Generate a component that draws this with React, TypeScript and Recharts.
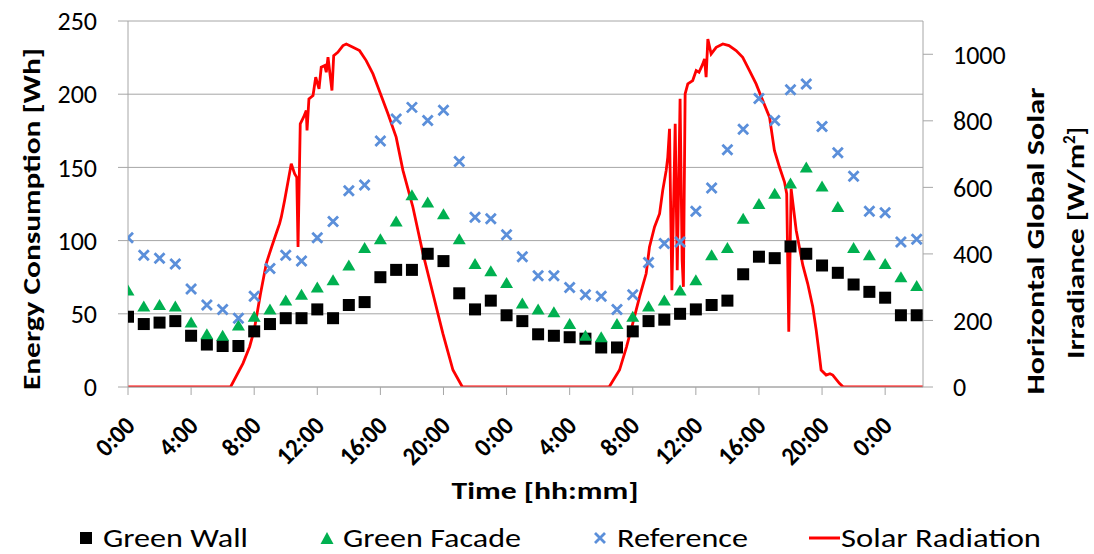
import { ComposedChart, Scatter, Line, XAxis, YAxis, CartesianGrid } from "recharts";

// hourly samples, 0 = first midnight
const hours = [
  0, 1, 2, 3, 4, 5, 6, 7, 8, 9, 10, 11, 12, 13, 14, 15, 16,
  17, 18, 19, 20, 21, 22, 23, 24, 25, 26, 27, 28, 29, 30, 31, 32, 33,
  34, 35, 36, 37, 38, 39, 40, 41, 42, 43, 44, 45, 46, 47, 48, 49, 50,
];

const greenWall = [
  48, 43, 44, 45, 35, 29, 28, 28, 38, 43, 47, 47, 53, 47, 56, 58, 75,
  80, 80, 91, 86, 64, 53, 59, 49, 45, 36, 35, 34, 33, 27, 27, 38, 45,
  46, 50, 53, 56, 59, 77, 89, 88, 96, 91, 83, 78, 70, 65, 61, 49, 49,
];

const greenFacade = [
  66, 55, 56, 55, 44, 36, 35, 42, 48, 53, 59, 63, 68, 73, 83, 95, 101,
  113, 131, 126, 118, 101, 84, 79, 71, 57, 53, 51, 43, 35, 34, 43, 48, 55,
  59, 66, 73, 90, 95, 115, 125, 132, 139, 150, 137, 123, 95, 90, 84, 75, 69,
];

const reference = [
  102, 90, 88, 84, 67, 56, 53, 47, 62, 81, 90, 86, 102, 113, 134, 138, 168,
  183, 191, 182, 189, 154, 116, 115, 104, 89, 76, 76, 68, 63, 62, 53, 63, 85,
  98, 99, 120, 136, 162, 176, 197, 182, 203, 207, 178, 160, 144, 120, 119, 99, 101,
];

// solar radiation, irregular time steps (hours) and W/m2
const solarHours = [
  0, 6.5, 7.29, 7.71, 8.0, 8.4, 8.77, 9.1, 9.4, 9.61, 9.72, 9.93, 10.14, 10.35,
  10.56, 10.7, 10.78, 10.92, 11.13, 11.3, 11.35, 11.47, 11.73, 11.9, 12.11,
  12.25, 12.47, 12.57, 12.68, 12.93, 13.04, 13.3, 13.63, 13.84, 14.26, 14.68,
  15.1, 15.53, 15.85, 16.48, 17.0, 17.43, 18.06, 18.7, 19.33, 19.96, 20.6, 21.2,
  30.5, 31.16, 31.6, 32.0, 32.43, 32.85, 33.06, 33.38, 33.7, 33.9, 34.12, 34.22,
  34.33, 34.48, 34.69, 34.82, 35.0, 35.13, 35.21, 35.32, 35.49, 35.8, 36.02,
  36.2, 36.44, 36.55, 36.65, 36.76, 36.97, 37.29, 37.71, 38.1, 38.55, 38.97,
  39.4, 39.82, 40.24, 40.67, 40.98, 41.3, 41.62, 41.76, 41.89, 42.04, 42.36,
  42.78, 43.09, 43.41, 43.63, 43.79, 43.94, 44.26, 44.5, 44.68, 45.1, 45.35, 50.4,
];

const solarValues = [
  0, 0, 71, 121, 171, 280, 372, 420, 462, 491, 511, 561, 616, 671,
  641, 630, 421, 791, 811, 831, 771, 866, 876, 931, 896,
  961, 966, 946, 991, 891, 996, 1006, 1026, 1031, 1021, 1011,
  981, 941, 901, 821, 751, 651, 541, 401, 281, 161, 51, 0,
  0, 51, 120, 191, 271, 341, 421, 481, 521, 591, 651, 691,
  776, 291, 791, 351, 866, 381, 301, 881, 911, 921, 951,
  946, 971, 986, 931, 1046, 1001, 1021, 1031, 1026, 1011, 991,
  951, 911, 861, 811, 711, 661, 616, 581, 166, 596, 471,
  366, 311, 241, 171, 111, 51, 36, 40, 36, 11, 0, 0,
];

const xTicks = [0, 4, 8, 12, 16, 20, 24, 28, 32, 36, 40, 44, 48];
const leftTicks = [0, 50, 100, 150, 200, 250];
const rightTicks = [0, 200, 400, 600, 800, 1000];

const wallData = hours.map((h, i) => ({ h, v: greenWall[i] }));
const facadeData = hours.map((h, i) => ({ h, v: greenFacade[i] }));
const refData = hours.map((h, i) => ({ h, v: reference[i] }));
const solarData = solarHours.map((h, i) => ({ h, w: solarValues[i] }));

const FONT = "Carlito, Lato, 'Open Sans', sans-serif";
const GRID = "#A6A6A6";
const BLUE = "#5B8FDA";
const GREEN = "#00B050";

const Square = (p: any) => (
  <rect x={p.cx - 6} y={p.cy - 6} width={12} height={12} fill="#000" />
);
const Triangle = (p: any) => (
  <path
    d={`M${p.cx},${p.cy - 6} L${p.cx + 6.5},${p.cy + 5} L${p.cx - 6.5},${p.cy + 5} Z`}
    fill={GREEN}
  />
);
const Cross = (p: any) => (
  <path
    d={`M${p.cx - 5},${p.cy - 5} L${p.cx + 5},${p.cy + 5} M${p.cx + 5},${p.cy - 5} L${p.cx - 5},${p.cy + 5}`}
    stroke={BLUE}
    strokeWidth={2.8}
  />
);

const fmtHour = (h: number) => `${h % 24}:00`;

// label length roughly like the original's narrow bold face
const tickLen = (s: string) => (s.replace(":", "").length * 0.507 + 0.276) * 24;

const XTick = (p: any) => {
  const s = fmtHour(p.payload.value);
  return (
    <text
      transform={`translate(${p.x + 2},421) rotate(-45)`}
      textAnchor="end"
      dy="0.35em"
      fontFamily={FONT}
      fontWeight={700}
      fontSize={26}
      fill="#000"
      textLength={tickLen(s)}
      lengthAdjust="spacingAndGlyphs"
    >
      {s}
    </text>
  );
};

export default function App() {
  return (
    <div style={{ position: "absolute", left: 0, top: 0, width: 1094, height: 554 }}>
      <ComposedChart
        width={1094}
        height={554}
        margin={{ top: 21, right: 0, left: 0, bottom: 0 }}
      >
        <CartesianGrid yAxisId="left" vertical={false} stroke={GRID} />
        <XAxis
          dataKey="h"
          type="number"
          domain={[0, 50.4]}
          ticks={xTicks}
          height={167}
          interval={0}
          stroke={GRID}
          tickSize={8}
          tick={<XTick />}
          allowDataOverflow
        />
        <YAxis
          yAxisId="left"
          orientation="left"
          domain={[0, 250]}
          ticks={leftTicks}
          width={128}
          stroke={GRID}
          tickSize={10}
          tickMargin={21}
          tick={{ fill: "#000", fontSize: 26, fontFamily: FONT }}
          allowDataOverflow
        />
        <YAxis
          yAxisId="right"
          orientation="right"
          domain={[0, 1100]}
          ticks={rightTicks}
          width={171}
          stroke={GRID}
          tickSize={10}
          tickMargin={20}
          tick={{ fill: "#000", fontSize: 26, fontFamily: FONT }}
          allowDataOverflow
        />
        <Line
          yAxisId="right"
          data={solarData}
          dataKey="w"
          type="linear"
          stroke="#FF0000"
          strokeWidth={2.8}
          dot={false}
          isAnimationActive={false}
        />
        <Scatter yAxisId="left" data={wallData} dataKey="v" shape={Square} isAnimationActive={false} />
        <Scatter yAxisId="left" data={facadeData} dataKey="v" shape={Triangle} isAnimationActive={false} />
        <Scatter yAxisId="left" data={refData} dataKey="v" shape={Cross} isAnimationActive={false} />
      </ComposedChart>
      <svg
        width={1094}
        height={554}
        style={{ position: "absolute", left: 0, top: 0, pointerEvents: "none" }}
        fontFamily={FONT}
      >
        <text
          transform="translate(31,219) rotate(-90)"
          textAnchor="middle"
          dy="0.35em"
          fontWeight={700}
          fontSize={25}
          textLength={342}
          lengthAdjust="spacingAndGlyphs"
        >
          Energy Consumption [Wh]
        </text>
        <text
          transform="translate(1035,241) rotate(-90)"
          textAnchor="middle"
          dy="0.35em"
          fontWeight={700}
          fontSize={25}
          textLength={307}
          lengthAdjust="spacingAndGlyphs"
        >
          Horizontal Global Solar
        </text>
        <text
          transform="translate(1075,243) rotate(-90)"
          textAnchor="middle"
          dy="0.35em"
          fontWeight={700}
          fontSize={25}
        >
          <tspan textLength={215} lengthAdjust="spacingAndGlyphs">Irradiance [W/m</tspan>
          <tspan dy="-9" fontSize={17}>2</tspan>
          <tspan dy="9">]</tspan>
        </text>
        <text
          x={545}
          y={499}
          textAnchor="middle"
          fontWeight={700}
          fontSize={25}
          textLength={187}
          lengthAdjust="spacingAndGlyphs"
        >
          Time [hh:mm]
        </text>

        <rect x={80} y={532} width={12} height={12} fill="#000" />
        <text x={103} y={547} fontSize={27} textLength={145} lengthAdjust="spacingAndGlyphs">
          Green Wall
        </text>
        <path d="M327,532 L333.5,544 L320.5,544 Z" fill={GREEN} />
        <text x={343} y={547} fontSize={27} textLength={178} lengthAdjust="spacingAndGlyphs">
          Green Facade
        </text>
        <path d="M595,533 L605,543 M605,533 L595,543" stroke={BLUE} strokeWidth={2.8} />
        <text x={617} y={547} fontSize={27} textLength={131} lengthAdjust="spacingAndGlyphs">
          Reference
        </text>
        <line x1={809} y1={538} x2={840} y2={538} stroke="#FF0000" strokeWidth={3} />
        <text x={841} y={547} fontSize={27} textLength={200} lengthAdjust="spacingAndGlyphs">
          Solar Radiation
        </text>
      </svg>
    </div>
  );
}
